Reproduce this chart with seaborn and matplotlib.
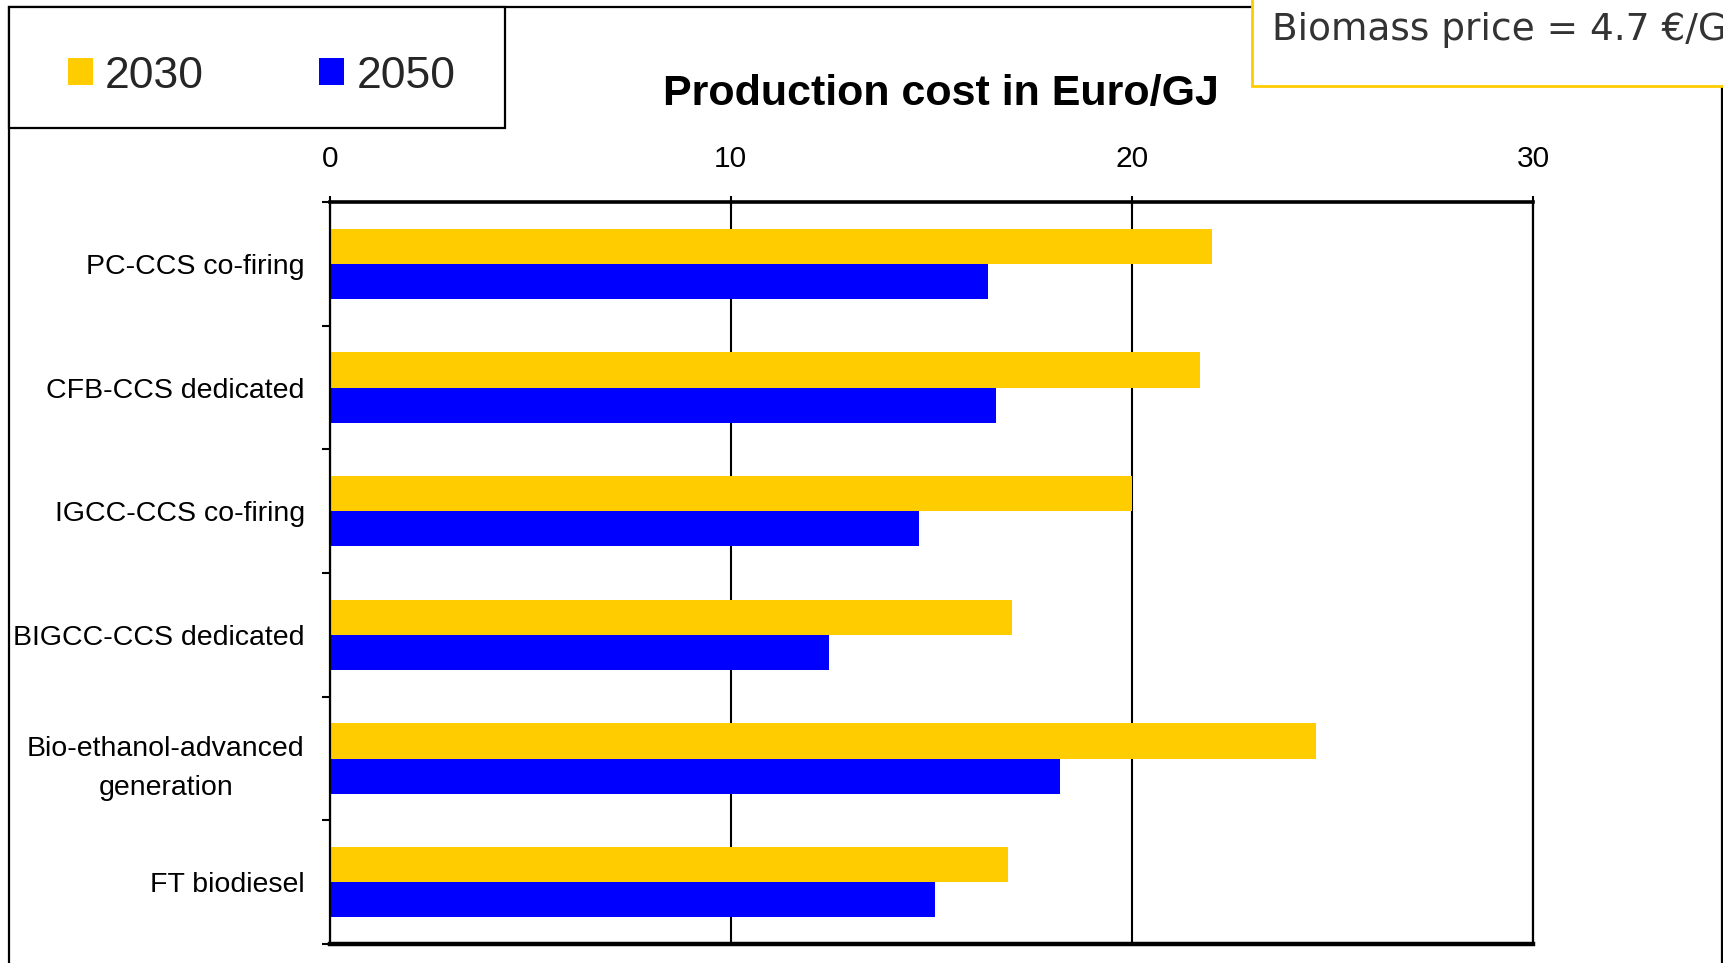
import matplotlib
matplotlib.use("Agg")
import matplotlib.pyplot as plt
import seaborn as sns
import pandas as pd
import numpy as np
from matplotlib.patches import Rectangle

categories = ["PC-CCS co-firing", "CFB-CCS dedicated", "IGCC-CCS co-firing",
              "BIGCC-CCS dedicated", "Bio-ethanol-advanced\ngeneration", "FT biodiesel"]
cost_2030 = [22.0, 21.7, 20.0, 17.0, 24.6, 16.9]
cost_2050 = [16.4, 16.6, 14.7, 12.45, 18.2, 15.1]
years = ["2030", "2050"]
x_ticks = [0, 10, 20, 30]
colors = ["#FFCC00", "#0000FF"]
title = "Production cost in Euro/GJ"
note = "Biomass price = 4.7 €/GJ"

df = pd.DataFrame({
    "category": categories * 2,
    "year": [years[0]] * len(categories) + [years[1]] * len(categories),
    "cost": cost_2030 + cost_2050,
})

sns.set_theme(style="white")
plt.rcParams["font.family"] = ["Liberation Sans", "DejaVu Sans"]

W, H = 1723, 963
fig = plt.figure(figsize=(W / 100, H / 100), dpi=100)
fig.patch.set_facecolor("white")

# outer frame
fig.patches.append(Rectangle((9 / W, -0.05), (1722 - 9) / W, 1.05 - 7 / H,
                             transform=fig.transFigure, fill=False,
                             edgecolor="black", lw=1.6, zorder=0))

ax = fig.add_axes([329.7 / W, 1 - 944 / H, (1533 - 329.7) / W, (944 - 202) / H])
sns.barplot(data=df, x="cost", y="category", hue="year", hue_order=years,
            palette=colors, orient="h", width=0.57, saturation=1,
            errorbar=None, linewidth=0, ax=ax)

handles, labels = ax.get_legend_handles_labels()
if ax.legend_ is not None:
    ax.legend_.remove()

ax.set_xlim(0, 30)
ax.set_ylim(5.5, -0.5)
ax.set_xlabel("")
ax.set_ylabel("")
ax.xaxis.tick_top()
ax.set_xticks(x_ticks)
ax.tick_params(axis="x", top=True, bottom=False, direction="inout", length=8,
               width=1.5, pad=17, labelsize=21.5, colors="black")
ax.set_yticks(np.arange(-0.5, len(categories), 1), minor=True)
ax.tick_params(axis="y", which="major", left=False, length=0, pad=18,
               labelsize=20.5, colors="black")
ax.tick_params(axis="y", which="minor", left=True, direction="out", length=6,
               width=1.5, color="black")
for lbl in ax.get_yticklabels():
    lbl.set_multialignment("center")
    lbl.set_linespacing(1.68)
    lbl.set_y(lbl.get_position()[1])

ax.grid(axis="x", color="black", lw=1.5)
ax.grid(axis="y", visible=False)
ax.set_axisbelow(True)
for side, lw in [("top", 2.6), ("bottom", 3.2), ("left", 1.6), ("right", 1.6)]:
    ax.spines[side].set_visible(True)
    ax.spines[side].set_color("black")
    ax.spines[side].set_linewidth(lw)

# legend box
fig.patches.append(Rectangle((9 / W, 1 - 128 / H), (505 - 9) / W, (128 - 7) / H,
                             transform=fig.transFigure, facecolor="white",
                             edgecolor="black", lw=1.6, zorder=1))
leg = fig.legend(handles, labels, loc="center left",
                 bbox_to_anchor=(68 / W, 1 - 76 / H), ncol=2, frameon=False,
                 borderpad=0, borderaxespad=0, handlelength=0.56,
                 handleheight=0.56, handletextpad=0.27, columnspacing=2.6,
                 prop={"family": "Liberation Sans", "size": 32})
leg.set_zorder(3)

# note box
fig.patches.append(Rectangle((1252 / W, 1 - 86 / H), 0.5, 0.5,
                             transform=fig.transFigure, facecolor="white",
                             edgecolor="#FFCC00", lw=2, zorder=2))
fig.text(1272 / W, 1 - 30 / H, note, fontsize=27, family="DejaVu Sans",
         color="#333333", va="center", ha="left", zorder=4)

fig.text(941 / W, 1 - 94.5 / H, title, fontsize=31, weight="bold",
         family="Liberation Sans", ha="center", va="center", color="black")

fig.savefig("out.png", dpi=100, facecolor="white")
